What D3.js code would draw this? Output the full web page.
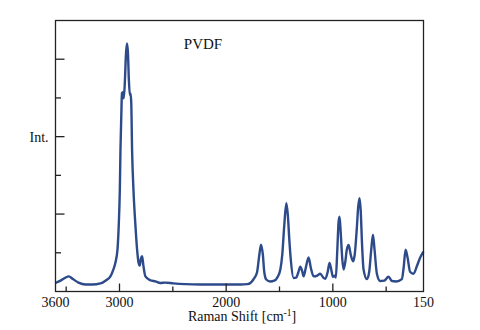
<!DOCTYPE html>
<html><head><meta charset="utf-8">
<script src="https://cdn.jsdelivr.net/npm/d3@7"></script>
<style>body{margin:0;background:#fff}svg{display:block}</style>
</head><body>
<script>
// Raman shift (cm^-1) and intensity (arbitrary units, y ticks = 1 unit)
const wavenumber = [3600,3553,3506,3475,3441,3385,3319,3253,3178,3132,3085,3057,3038,3019,3007,2997,2991,2983,2977,2968,2960,2949,2940,2930,2921,2912,2903,2897,2890,2882,2869,2851,2835,2823,2810,2799,2788,2776,2757,2711,2663,2617,2570,2495,2382,2242,2054,1867,1801,1773,1745,1711,1689,1673,1656,1643,1624,1587,1549,1521,1492,1474,1455,1436,1422,1408,1394,1368,1343,1324,1305,1286,1274,1253,1227,1207,1180,1146,1118,1090,1071,1048,1031,1015,999,982,972,958,946,937,925,911,899,883,869,852,832,811,795,776,762,750,739,726,712,680,659,640,624,609,587,556,518,478,446,406,353,336,318,299,276,245,210,182,151];
const intensity = [0.22,0.28,0.36,0.39,0.33,0.23,0.18,0.18,0.21,0.28,0.39,0.57,0.75,1.08,1.72,2.62,3.65,4.55,5.12,5.15,4.99,5.46,6.10,6.41,6.17,5.46,5.07,5.12,4.89,3.65,2.62,1.72,1.08,0.77,0.67,0.85,0.91,0.67,0.39,0.29,0.26,0.22,0.23,0.21,0.19,0.18,0.18,0.18,0.19,0.22,0.31,0.49,0.95,1.21,0.95,0.51,0.31,0.26,0.28,0.36,0.57,0.95,1.72,2.28,1.98,1.34,0.82,0.35,0.36,0.49,0.64,0.51,0.39,0.62,0.88,0.62,0.39,0.41,0.46,0.36,0.33,0.51,0.74,0.57,0.38,0.41,0.36,1.08,1.80,1.93,1.47,0.82,0.57,0.77,1.08,1.20,0.95,0.78,0.95,1.60,2.19,2.41,2.11,1.21,0.57,0.32,0.51,1.08,1.47,1.08,0.46,0.27,0.28,0.38,0.27,0.26,0.32,0.62,1.08,0.87,0.51,0.46,0.67,0.87,1.03];
const xTickMarks = [3500,3000,2500,2000,1500,1000,500];
const xTickLabels = [3600,3000,2000,1000,150];
const yTickMarks = [1,2,3,4,5,6];

const W = 480, H = 330;
const mLeft = 55.5, mRight = 423.5, mTop = 20.5, mBottom = 291.5;
const svg = d3.select("body").append("svg").attr("width", W).attr("height", H);
const x = d3.scaleLinear().domain([3600,150]).range([mLeft,mRight]);
const y = d3.scaleLinear().domain([0,7]).range([mBottom,mTop]);
const font = "'Liberation Serif','Times New Roman',serif";

// spectrum
const data = wavenumber.map((w,i)=>({w, v:intensity[i]}));
const line = d3.line().x(d=>x(d.w)).y(d=>y(d.v)).curve(d3.curveMonotoneX);
svg.append("path").datum(data).attr("d", line)
  .attr("fill","none").attr("stroke","#2d4a8a").attr("stroke-width",2.4)
  .attr("stroke-linejoin","round");

// frame
svg.append("rect").attr("x",mLeft).attr("y",mTop).attr("width",mRight-mLeft).attr("height",mBottom-mTop)
  .attr("fill","none").attr("stroke","#222").attr("stroke-width",1.3);

// bottom ticks (inward)
svg.append("g").selectAll("line").data(xTickMarks).join("line")
  .attr("x1",d=>x(d)).attr("x2",d=>x(d))
  .attr("y1",mBottom).attr("y2",d=> mBottom - (d%1000===0 ? 8 : 5))
  .attr("stroke","#222").attr("stroke-width",1.3);
svg.append("g").selectAll("text").data(xTickLabels).join("text")
  .attr("x",d=>x(d)).attr("y",307).attr("text-anchor","middle")
  .attr("font-family",font).attr("font-size",14).attr("fill","#111").text(d=>d);

// left ticks (inward)
svg.append("g").selectAll("line").data(yTickMarks).join("line")
  .attr("x1",mLeft).attr("x2",d=> mLeft + (d%2===0 ? 9 : 5.5))
  .attr("y1",d=>y(d)).attr("y2",d=>y(d))
  .attr("stroke","#222").attr("stroke-width",1.3);

// labels
svg.append("text").attr("x",39).attr("y",142).attr("text-anchor","middle")
  .attr("font-family",font).attr("font-size",14).attr("fill","#111").text("Int.");
svg.append("text").attr("x",203).attr("y",49).attr("text-anchor","middle")
  .attr("font-family",font).attr("font-size",15).attr("fill","#111").text("PVDF");
const xl = svg.append("text").attr("x",242).attr("y",321).attr("text-anchor","middle")
  .attr("font-family",font).attr("font-size",14).attr("fill","#111");
xl.append("tspan").text("Raman Shift [cm");
xl.append("tspan").attr("dy",-5).attr("font-size",9.5).text("-1");
xl.append("tspan").attr("dy",5).text("]");
</script>
</body></html>
